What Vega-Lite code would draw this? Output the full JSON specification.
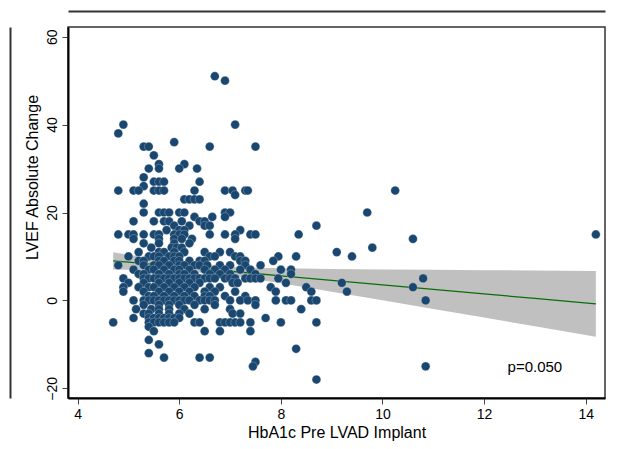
{
  "$schema": "https://vega.github.io/schema/vega-lite/v6.json",
  "width": 537,
  "height": 371,
  "autosize": {"type": "none"},
  "padding": {"left": 68, "top": 27, "right": 12, "bottom": 51},
  "background": "white",
  "config": {
    "view": {"stroke": "#333333", "strokeWidth": 1.5},
    "font": "Liberation Sans"
  },
  "datasets": {
    "fit": [
      {"x": 4.7, "lo": 7.04, "hi": 10.96, "fit": 9.0},
      {"x": 5.0, "lo": 6.98, "hi": 10.4, "fit": 8.69},
      {"x": 5.5, "lo": 6.86, "hi": 9.5, "fit": 8.18},
      {"x": 6.0, "lo": 6.64, "hi": 8.68, "fit": 7.66},
      {"x": 6.5, "lo": 6.25, "hi": 8.05, "fit": 7.15},
      {"x": 7.0, "lo": 5.61, "hi": 7.65, "fit": 6.63},
      {"x": 7.5, "lo": 4.8, "hi": 7.44, "fit": 6.12},
      {"x": 8.0, "lo": 3.89, "hi": 7.31, "fit": 5.6},
      {"x": 9.0, "lo": 1.99, "hi": 7.15, "fit": 4.57},
      {"x": 10.0, "lo": 0.04, "hi": 7.04, "fit": 3.54},
      {"x": 11.0, "lo": -1.93, "hi": 6.95, "fit": 2.51},
      {"x": 12.0, "lo": -3.91, "hi": 6.87, "fit": 1.48},
      {"x": 13.0, "lo": -5.9, "hi": 6.8, "fit": 0.45},
      {"x": 14.2, "lo": -8.29, "hi": 6.71, "fit": -0.79}
    ],
    "note": [{"x": 13.0, "y": -15.2, "label": "p=0.050"}],
    "points": [
      {"hba1c": 6.7, "lvef": 51}, {"hba1c": 6.9, "lvef": 50}, {"hba1c": 4.9, "lvef": 40}, {"hba1c": 7.1, "lvef": 40},
      {"hba1c": 4.8, "lvef": 38}, {"hba1c": 5.9, "lvef": 36}, {"hba1c": 5.3, "lvef": 35}, {"hba1c": 5.4, "lvef": 35},
      {"hba1c": 6.6, "lvef": 35}, {"hba1c": 7.5, "lvef": 35}, {"hba1c": 5.5, "lvef": 33}, {"hba1c": 5.6, "lvef": 31},
      {"hba1c": 6.1, "lvef": 31}, {"hba1c": 5.4, "lvef": 30}, {"hba1c": 5.6, "lvef": 30}, {"hba1c": 6.0, "lvef": 30},
      {"hba1c": 6.35, "lvef": 30}, {"hba1c": 5.3, "lvef": 28}, {"hba1c": 5.5, "lvef": 27}, {"hba1c": 5.6, "lvef": 27},
      {"hba1c": 5.7, "lvef": 27}, {"hba1c": 6.4, "lvef": 27}, {"hba1c": 5.3, "lvef": 26},
      {"hba1c": 4.8, "lvef": 25}, {"hba1c": 5.1, "lvef": 25}, {"hba1c": 5.2, "lvef": 25}, {"hba1c": 5.5, "lvef": 25},
      {"hba1c": 5.6, "lvef": 25}, {"hba1c": 5.7, "lvef": 25}, {"hba1c": 6.3, "lvef": 25}, {"hba1c": 6.9, "lvef": 25},
      {"hba1c": 7.05, "lvef": 25}, {"hba1c": 7.3, "lvef": 25}, {"hba1c": 7.35, "lvef": 25}, {"hba1c": 10.25, "lvef": 25},
      {"hba1c": 7.1, "lvef": 24},
      {"hba1c": 6.1, "lvef": 23}, {"hba1c": 6.2, "lvef": 23}, {"hba1c": 6.3, "lvef": 23}, {"hba1c": 6.4, "lvef": 23},
      {"hba1c": 5.3, "lvef": 22},
      {"hba1c": 5.3, "lvef": 20}, {"hba1c": 5.6, "lvef": 20}, {"hba1c": 5.7, "lvef": 20}, {"hba1c": 5.8, "lvef": 20},
      {"hba1c": 6.0, "lvef": 20}, {"hba1c": 6.1, "lvef": 20}, {"hba1c": 6.9, "lvef": 20}, {"hba1c": 7.0, "lvef": 20},
      {"hba1c": 9.7, "lvef": 20},
      {"hba1c": 6.3, "lvef": 19}, {"hba1c": 6.65, "lvef": 19}, {"hba1c": 6.9, "lvef": 19},
      {"hba1c": 5.1, "lvef": 18}, {"hba1c": 5.5, "lvef": 18}, {"hba1c": 5.7, "lvef": 18}, {"hba1c": 5.8, "lvef": 18},
      {"hba1c": 6.05, "lvef": 18}, {"hba1c": 6.4, "lvef": 18}, {"hba1c": 6.5, "lvef": 18},
      {"hba1c": 6.2, "lvef": 17}, {"hba1c": 6.5, "lvef": 17}, {"hba1c": 6.6, "lvef": 17}, {"hba1c": 8.7, "lvef": 17},
      {"hba1c": 5.9, "lvef": 17},
      {"hba1c": 6.0, "lvef": 16}, {"hba1c": 6.1, "lvef": 16}, {"hba1c": 7.2, "lvef": 16}, {"hba1c": 5.75, "lvef": 16},
      {"hba1c": 4.8, "lvef": 15}, {"hba1c": 5.0, "lvef": 15}, {"hba1c": 5.1, "lvef": 15}, {"hba1c": 5.3, "lvef": 15},
      {"hba1c": 5.5, "lvef": 15}, {"hba1c": 5.6, "lvef": 15}, {"hba1c": 5.9, "lvef": 15}, {"hba1c": 6.0, "lvef": 15},
      {"hba1c": 6.1, "lvef": 15}, {"hba1c": 6.6, "lvef": 15}, {"hba1c": 6.9, "lvef": 15}, {"hba1c": 7.1, "lvef": 15},
      {"hba1c": 7.4, "lvef": 15}, {"hba1c": 7.5, "lvef": 15}, {"hba1c": 8.35, "lvef": 15}, {"hba1c": 14.2, "lvef": 15},
      {"hba1c": 5.1, "lvef": 14}, {"hba1c": 5.6, "lvef": 14}, {"hba1c": 5.9, "lvef": 14}, {"hba1c": 6.05, "lvef": 14},
      {"hba1c": 7.1, "lvef": 14}, {"hba1c": 10.6, "lvef": 14}, {"hba1c": 6.25, "lvef": 14},
      {"hba1c": 5.3, "lvef": 13}, {"hba1c": 5.6, "lvef": 13}, {"hba1c": 5.9, "lvef": 13}, {"hba1c": 6.2, "lvef": 13},
      {"hba1c": 5.85, "lvef": 12}, {"hba1c": 5.95, "lvef": 12}, {"hba1c": 6.05, "lvef": 12}, {"hba1c": 9.8, "lvef": 12},
      {"hba1c": 5.45, "lvef": 12},
      {"hba1c": 5.2, "lvef": 11}, {"hba1c": 5.6, "lvef": 11}, {"hba1c": 5.7, "lvef": 11}, {"hba1c": 5.9, "lvef": 11},
      {"hba1c": 6.1, "lvef": 11}, {"hba1c": 6.5, "lvef": 11}, {"hba1c": 6.8, "lvef": 11}, {"hba1c": 7.0, "lvef": 11},
      {"hba1c": 9.1, "lvef": 11},
      {"hba1c": 5.0, "lvef": 10}, {"hba1c": 5.4, "lvef": 10}, {"hba1c": 5.5, "lvef": 10}, {"hba1c": 5.6, "lvef": 10},
      {"hba1c": 5.8, "lvef": 10}, {"hba1c": 5.9, "lvef": 10}, {"hba1c": 6.0, "lvef": 10}, {"hba1c": 6.6, "lvef": 10},
      {"hba1c": 6.7, "lvef": 10}, {"hba1c": 7.1, "lvef": 10}, {"hba1c": 7.2, "lvef": 10}, {"hba1c": 7.95, "lvef": 10},
      {"hba1c": 8.3, "lvef": 10}, {"hba1c": 9.4, "lvef": 10},
      {"hba1c": 5.2, "lvef": 9}, {"hba1c": 5.3, "lvef": 9}, {"hba1c": 5.6, "lvef": 9}, {"hba1c": 5.7, "lvef": 9},
      {"hba1c": 5.9, "lvef": 9}, {"hba1c": 6.0, "lvef": 9}, {"hba1c": 6.2, "lvef": 9}, {"hba1c": 6.4, "lvef": 9},
      {"hba1c": 6.5, "lvef": 9}, {"hba1c": 7.2, "lvef": 9}, {"hba1c": 7.3, "lvef": 9}, {"hba1c": 7.85, "lvef": 9},
      {"hba1c": 4.8, "lvef": 8}, {"hba1c": 5.3, "lvef": 8}, {"hba1c": 5.5, "lvef": 8}, {"hba1c": 5.6, "lvef": 8},
      {"hba1c": 5.8, "lvef": 8}, {"hba1c": 6.0, "lvef": 8}, {"hba1c": 6.1, "lvef": 8}, {"hba1c": 6.3, "lvef": 8},
      {"hba1c": 6.4, "lvef": 8}, {"hba1c": 6.55, "lvef": 8}, {"hba1c": 6.8, "lvef": 8}, {"hba1c": 7.0, "lvef": 8},
      {"hba1c": 7.3, "lvef": 8}, {"hba1c": 7.6, "lvef": 8},
      {"hba1c": 5.1, "lvef": 7}, {"hba1c": 5.4, "lvef": 7}, {"hba1c": 5.5, "lvef": 7}, {"hba1c": 5.7, "lvef": 7},
      {"hba1c": 5.9, "lvef": 7}, {"hba1c": 6.0, "lvef": 7}, {"hba1c": 6.2, "lvef": 7}, {"hba1c": 6.5, "lvef": 7},
      {"hba1c": 6.7, "lvef": 7}, {"hba1c": 6.9, "lvef": 7}, {"hba1c": 7.2, "lvef": 7}, {"hba1c": 7.4, "lvef": 7},
      {"hba1c": 8.0, "lvef": 7}, {"hba1c": 8.2, "lvef": 7},
      {"hba1c": 5.2, "lvef": 6}, {"hba1c": 5.3, "lvef": 6}, {"hba1c": 5.6, "lvef": 6}, {"hba1c": 5.8, "lvef": 6},
      {"hba1c": 6.0, "lvef": 6}, {"hba1c": 6.1, "lvef": 6}, {"hba1c": 6.3, "lvef": 6}, {"hba1c": 6.6, "lvef": 6},
      {"hba1c": 6.8, "lvef": 6}, {"hba1c": 7.0, "lvef": 6}, {"hba1c": 7.5, "lvef": 6}, {"hba1c": 8.2, "lvef": 6},
      {"hba1c": 4.9, "lvef": 5}, {"hba1c": 5.3, "lvef": 5}, {"hba1c": 5.4, "lvef": 5}, {"hba1c": 5.5, "lvef": 5},
      {"hba1c": 5.6, "lvef": 5}, {"hba1c": 5.7, "lvef": 5}, {"hba1c": 5.8, "lvef": 5}, {"hba1c": 5.9, "lvef": 5},
      {"hba1c": 6.0, "lvef": 5}, {"hba1c": 6.1, "lvef": 5}, {"hba1c": 6.2, "lvef": 5}, {"hba1c": 6.3, "lvef": 5},
      {"hba1c": 6.4, "lvef": 5}, {"hba1c": 6.5, "lvef": 5}, {"hba1c": 6.6, "lvef": 5}, {"hba1c": 6.7, "lvef": 5},
      {"hba1c": 6.9, "lvef": 5}, {"hba1c": 7.0, "lvef": 5}, {"hba1c": 7.1, "lvef": 5}, {"hba1c": 7.3, "lvef": 5},
      {"hba1c": 7.4, "lvef": 5}, {"hba1c": 7.5, "lvef": 5}, {"hba1c": 7.6, "lvef": 5}, {"hba1c": 7.95, "lvef": 5},
      {"hba1c": 10.8, "lvef": 5},
      {"hba1c": 5.0, "lvef": 4}, {"hba1c": 5.3, "lvef": 4}, {"hba1c": 5.6, "lvef": 4}, {"hba1c": 5.8, "lvef": 4},
      {"hba1c": 6.0, "lvef": 4}, {"hba1c": 6.2, "lvef": 4}, {"hba1c": 6.4, "lvef": 4}, {"hba1c": 7.05, "lvef": 4},
      {"hba1c": 7.15, "lvef": 4}, {"hba1c": 8.1, "lvef": 4}, {"hba1c": 9.2, "lvef": 4},
      {"hba1c": 4.9, "lvef": 3}, {"hba1c": 5.2, "lvef": 3}, {"hba1c": 5.4, "lvef": 3}, {"hba1c": 5.5, "lvef": 3},
      {"hba1c": 5.7, "lvef": 3}, {"hba1c": 5.9, "lvef": 3}, {"hba1c": 6.1, "lvef": 3}, {"hba1c": 6.3, "lvef": 3},
      {"hba1c": 6.6, "lvef": 3}, {"hba1c": 6.8, "lvef": 3}, {"hba1c": 7.8, "lvef": 3}, {"hba1c": 8.5, "lvef": 3},
      {"hba1c": 10.6, "lvef": 3},
      {"hba1c": 4.9, "lvef": 2}, {"hba1c": 5.3, "lvef": 2}, {"hba1c": 5.6, "lvef": 2}, {"hba1c": 5.8, "lvef": 2},
      {"hba1c": 6.0, "lvef": 2}, {"hba1c": 6.2, "lvef": 2}, {"hba1c": 6.5, "lvef": 2}, {"hba1c": 6.7, "lvef": 2},
      {"hba1c": 7.1, "lvef": 2}, {"hba1c": 7.9, "lvef": 2}, {"hba1c": 8.6, "lvef": 2}, {"hba1c": 9.3, "lvef": 2},
      {"hba1c": 5.4, "lvef": 1}, {"hba1c": 5.5, "lvef": 1}, {"hba1c": 5.7, "lvef": 1}, {"hba1c": 5.9, "lvef": 1},
      {"hba1c": 6.1, "lvef": 1}, {"hba1c": 6.3, "lvef": 1}, {"hba1c": 6.5, "lvef": 1}, {"hba1c": 6.6, "lvef": 1},
      {"hba1c": 6.9, "lvef": 1}, {"hba1c": 7.3, "lvef": 1},
      {"hba1c": 5.1, "lvef": 0}, {"hba1c": 5.3, "lvef": 0}, {"hba1c": 5.4, "lvef": 0}, {"hba1c": 5.5, "lvef": 0},
      {"hba1c": 5.6, "lvef": 0}, {"hba1c": 5.7, "lvef": 0}, {"hba1c": 5.8, "lvef": 0}, {"hba1c": 5.9, "lvef": 0},
      {"hba1c": 6.0, "lvef": 0}, {"hba1c": 6.1, "lvef": 0}, {"hba1c": 6.2, "lvef": 0}, {"hba1c": 6.4, "lvef": 0},
      {"hba1c": 6.5, "lvef": 0}, {"hba1c": 6.6, "lvef": 0}, {"hba1c": 6.7, "lvef": 0}, {"hba1c": 7.0, "lvef": 0},
      {"hba1c": 7.2, "lvef": 0}, {"hba1c": 7.35, "lvef": 0}, {"hba1c": 7.5, "lvef": 0}, {"hba1c": 7.9, "lvef": 0},
      {"hba1c": 8.1, "lvef": 0}, {"hba1c": 8.2, "lvef": 0}, {"hba1c": 8.6, "lvef": 0}, {"hba1c": 8.7, "lvef": 0},
      {"hba1c": 10.85, "lvef": 0},
      {"hba1c": 5.3, "lvef": -1}, {"hba1c": 5.6, "lvef": -1}, {"hba1c": 5.8, "lvef": -1}, {"hba1c": 6.0, "lvef": -1},
      {"hba1c": 6.3, "lvef": -1}, {"hba1c": 6.7, "lvef": -1}, {"hba1c": 7.5, "lvef": -1},
      {"hba1c": 5.15, "lvef": -2}, {"hba1c": 5.45, "lvef": -2}, {"hba1c": 5.6, "lvef": -2}, {"hba1c": 5.8, "lvef": -2},
      {"hba1c": 6.1, "lvef": -2}, {"hba1c": 6.5, "lvef": -2}, {"hba1c": 7.0, "lvef": -2}, {"hba1c": 8.4, "lvef": -2},
      {"hba1c": 5.3, "lvef": -3}, {"hba1c": 5.4, "lvef": -3}, {"hba1c": 5.6, "lvef": -3}, {"hba1c": 5.8, "lvef": -3},
      {"hba1c": 6.0, "lvef": -3}, {"hba1c": 6.2, "lvef": -3}, {"hba1c": 7.05, "lvef": -3}, {"hba1c": 7.2, "lvef": -3},
      {"hba1c": 5.1, "lvef": -4}, {"hba1c": 5.4, "lvef": -4}, {"hba1c": 5.5, "lvef": -4}, {"hba1c": 5.6, "lvef": -4},
      {"hba1c": 5.7, "lvef": -4}, {"hba1c": 5.8, "lvef": -4}, {"hba1c": 5.9, "lvef": -4}, {"hba1c": 6.0, "lvef": -4},
      {"hba1c": 7.7, "lvef": -4},
      {"hba1c": 4.7, "lvef": -5}, {"hba1c": 5.4, "lvef": -5}, {"hba1c": 5.5, "lvef": -5}, {"hba1c": 5.6, "lvef": -5},
      {"hba1c": 5.7, "lvef": -5}, {"hba1c": 5.8, "lvef": -5}, {"hba1c": 5.9, "lvef": -5}, {"hba1c": 6.3, "lvef": -5},
      {"hba1c": 6.4, "lvef": -5}, {"hba1c": 6.8, "lvef": -5}, {"hba1c": 6.9, "lvef": -5}, {"hba1c": 7.0, "lvef": -5},
      {"hba1c": 7.1, "lvef": -5}, {"hba1c": 7.2, "lvef": -5}, {"hba1c": 7.4, "lvef": -5}, {"hba1c": 8.0, "lvef": -5},
      {"hba1c": 8.7, "lvef": -5},
      {"hba1c": 5.4, "lvef": -6},
      {"hba1c": 5.5, "lvef": -7}, {"hba1c": 6.5, "lvef": -7}, {"hba1c": 6.8, "lvef": -7}, {"hba1c": 7.4, "lvef": -7},
      {"hba1c": 5.4, "lvef": -9}, {"hba1c": 5.6, "lvef": -10}, {"hba1c": 8.3, "lvef": -11}, {"hba1c": 5.4, "lvef": -12},
      {"hba1c": 5.7, "lvef": -13}, {"hba1c": 6.4, "lvef": -13}, {"hba1c": 6.6, "lvef": -13}, {"hba1c": 7.5, "lvef": -14},
      {"hba1c": 7.45, "lvef": -15}, {"hba1c": 10.85, "lvef": -15}, {"hba1c": 8.7, "lvef": -18}
    ]
  },
  "layer": [
    {
      "data": {"name": "fit"},
      "mark": {"type": "area", "color": "#c0c0c0", "opacity": 1},
      "encoding": {
        "x": {
          "field": "x", "type": "quantitative",
          "scale": {"domain": [3.81, 14.38], "nice": false, "zero": false},
          "axis": {
            "title": "HbA1c Pre LVAD Implant", "values": [4, 6, 8, 10, 12, 14], "grid": false,
            "tickSize": 6, "tickColor": "#444444", "tickWidth": 1,
            "domainColor": "black", "domainWidth": 2,
            "labelFont": "Liberation Sans", "labelFontSize": 14, "labelColor": "black", "labelPadding": 3,
            "titleFont": "Liberation Sans", "titleFontSize": 16, "titleFontWeight": "normal", "titleColor": "black", "titlePadding": 3
          }
        },
        "y": {
          "field": "lo", "type": "quantitative",
          "scale": {"domain": [-22.2, 62.2], "nice": false, "zero": false},
          "axis": {
            "title": "LVEF Absolute Change", "values": [-20, 0, 20, 40, 60], "grid": false,
            "tickSize": 6, "tickColor": "#444444", "tickWidth": 1,
            "domainColor": "black", "domainWidth": 2,
            "labelFont": "Liberation Sans", "labelFontSize": 14, "labelColor": "black",
            "labelAngle": -90, "labelAlign": "center", "labelBaseline": "bottom", "labelPadding": 3,
            "titleFont": "Liberation Sans", "titleFontSize": 16, "titleFontWeight": "normal", "titleColor": "black",
            "titlePadding": 5, "titleY": 150
          }
        },
        "y2": {"field": "hi"}
      }
    },
    {
      "data": {"name": "fit"},
      "mark": {"type": "line", "color": "#0a6e0a", "strokeWidth": 1.3},
      "encoding": {
        "x": {
          "field": "x", "type": "quantitative",
          "axis": {"orient": "top", "offset": 16, "domain": true, "domainColor": "#333333", "domainWidth": 2, "ticks": false, "labels": false, "title": null, "grid": false}
        },
        "y": {
          "field": "fit", "type": "quantitative",
          "axis": {"orient": "left", "offset": 58, "domain": true, "domainColor": "#333333", "domainWidth": 2, "ticks": false, "labels": false, "title": null, "grid": false}
        }
      }
    },
    {
      "data": {"name": "points"},
      "mark": {"type": "circle", "size": 76, "color": "#1a476f", "opacity": 1, "stroke": "#d8e0e8", "strokeWidth": 0.3},
      "encoding": {
        "x": {"field": "hba1c", "type": "quantitative", "axis": null},
        "y": {"field": "lvef", "type": "quantitative", "axis": null}
      }
    },
    {
      "data": {"name": "note"},
      "mark": {"type": "text", "font": "Liberation Sans", "fontSize": 15, "color": "black", "align": "center", "baseline": "middle"},
      "encoding": {
        "x": {"field": "x", "type": "quantitative", "axis": null},
        "y": {"field": "y", "type": "quantitative", "axis": null},
        "text": {"field": "label"}
      }
    }
  ],
  "resolve": {"axis": {"x": "independent", "y": "independent"}}
}
